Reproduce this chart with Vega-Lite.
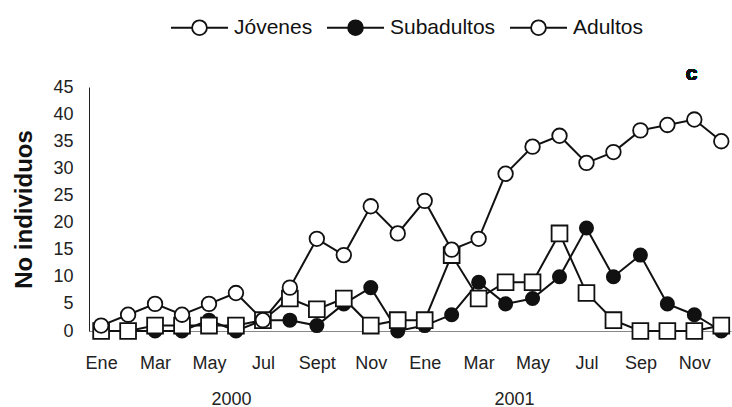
{
  "$schema": "https://vega.github.io/schema/vega-lite/v6.json",
  "width": 642,
  "height": 244,
  "autosize": {"type": "none"},
  "padding": {"left": 89, "top": 87, "right": 1, "bottom": 76},
  "background": "white",
  "config": {
    "font": "Liberation Sans",
    "view": {"stroke": null}
  },
  "datasets": {
    "conteo": [
      {"m": 0, "grupo": "Subadultos", "n": 0},
      {"m": 1, "grupo": "Subadultos", "n": 0},
      {"m": 2, "grupo": "Subadultos", "n": 0},
      {"m": 3, "grupo": "Subadultos", "n": 0},
      {"m": 4, "grupo": "Subadultos", "n": 2},
      {"m": 5, "grupo": "Subadultos", "n": 0},
      {"m": 6, "grupo": "Subadultos", "n": 2},
      {"m": 7, "grupo": "Subadultos", "n": 2},
      {"m": 8, "grupo": "Subadultos", "n": 1},
      {"m": 9, "grupo": "Subadultos", "n": 5},
      {"m": 10, "grupo": "Subadultos", "n": 8},
      {"m": 11, "grupo": "Subadultos", "n": 0},
      {"m": 12, "grupo": "Subadultos", "n": 1},
      {"m": 13, "grupo": "Subadultos", "n": 3},
      {"m": 14, "grupo": "Subadultos", "n": 9},
      {"m": 15, "grupo": "Subadultos", "n": 5},
      {"m": 16, "grupo": "Subadultos", "n": 6},
      {"m": 17, "grupo": "Subadultos", "n": 10},
      {"m": 18, "grupo": "Subadultos", "n": 19},
      {"m": 19, "grupo": "Subadultos", "n": 10},
      {"m": 20, "grupo": "Subadultos", "n": 14},
      {"m": 21, "grupo": "Subadultos", "n": 5},
      {"m": 22, "grupo": "Subadultos", "n": 3},
      {"m": 23, "grupo": "Subadultos", "n": 0},
      {"m": 0, "grupo": "Jóvenes", "n": 0},
      {"m": 1, "grupo": "Jóvenes", "n": 0},
      {"m": 2, "grupo": "Jóvenes", "n": 1},
      {"m": 3, "grupo": "Jóvenes", "n": 1},
      {"m": 4, "grupo": "Jóvenes", "n": 1},
      {"m": 5, "grupo": "Jóvenes", "n": 1},
      {"m": 6, "grupo": "Jóvenes", "n": 2},
      {"m": 7, "grupo": "Jóvenes", "n": 6},
      {"m": 8, "grupo": "Jóvenes", "n": 4},
      {"m": 9, "grupo": "Jóvenes", "n": 6},
      {"m": 10, "grupo": "Jóvenes", "n": 1},
      {"m": 11, "grupo": "Jóvenes", "n": 2},
      {"m": 12, "grupo": "Jóvenes", "n": 2},
      {"m": 13, "grupo": "Jóvenes", "n": 14},
      {"m": 14, "grupo": "Jóvenes", "n": 6},
      {"m": 15, "grupo": "Jóvenes", "n": 9},
      {"m": 16, "grupo": "Jóvenes", "n": 9},
      {"m": 17, "grupo": "Jóvenes", "n": 18},
      {"m": 18, "grupo": "Jóvenes", "n": 7},
      {"m": 19, "grupo": "Jóvenes", "n": 2},
      {"m": 20, "grupo": "Jóvenes", "n": 0},
      {"m": 21, "grupo": "Jóvenes", "n": 0},
      {"m": 22, "grupo": "Jóvenes", "n": 0},
      {"m": 23, "grupo": "Jóvenes", "n": 1},
      {"m": 0, "grupo": "Adultos", "n": 1},
      {"m": 1, "grupo": "Adultos", "n": 3},
      {"m": 2, "grupo": "Adultos", "n": 5},
      {"m": 3, "grupo": "Adultos", "n": 3},
      {"m": 4, "grupo": "Adultos", "n": 5},
      {"m": 5, "grupo": "Adultos", "n": 7},
      {"m": 6, "grupo": "Adultos", "n": 2},
      {"m": 7, "grupo": "Adultos", "n": 8},
      {"m": 8, "grupo": "Adultos", "n": 17},
      {"m": 9, "grupo": "Adultos", "n": 14},
      {"m": 10, "grupo": "Adultos", "n": 23},
      {"m": 11, "grupo": "Adultos", "n": 18},
      {"m": 12, "grupo": "Adultos", "n": 24},
      {"m": 13, "grupo": "Adultos", "n": 15},
      {"m": 14, "grupo": "Adultos", "n": 17},
      {"m": 15, "grupo": "Adultos", "n": 29},
      {"m": 16, "grupo": "Adultos", "n": 34},
      {"m": 17, "grupo": "Adultos", "n": 36},
      {"m": 18, "grupo": "Adultos", "n": 31},
      {"m": 19, "grupo": "Adultos", "n": 33},
      {"m": 20, "grupo": "Adultos", "n": 37},
      {"m": 21, "grupo": "Adultos", "n": 38},
      {"m": 22, "grupo": "Adultos", "n": 39},
      {"m": 23, "grupo": "Adultos", "n": 35}
    ]
  },
  "data": {"name": "conteo"},
  "encoding": {
    "y": {
      "field": "n",
      "type": "quantitative",
      "scale": {"domain": [0, 45], "nice": false},
      "axis": {
        "title": "No individuos",
        "titleFontSize": 24,
        "titleFontWeight": "bold",
        "titleColor": "#111",
        "titlePadding": 16,
        "values": [0, 5, 10, 15, 20, 25, 30, 35, 40, 45],
        "labelFontSize": 18,
        "labelColor": "#222",
        "labelPadding": 16,
        "labelOverlap": false,
        "labelFlush": false,
        "ticks": false,
        "grid": false,
        "domainColor": "#222",
        "domainWidth": 1
      }
    }
  },
  "layer": [
    {
      "mark": {"type": "line", "color": "#111", "strokeWidth": 2},
      "encoding": {
        "x": {
          "field": "m",
          "type": "quantitative",
          "scale": {"domain": [-0.45, 23.36], "nice": false, "zero": false},
          "axis": {
            "orient": "bottom",
            "title": null,
            "values": [0, 2, 4, 6, 8, 10, 12, 14, 16, 18, 20, 22],
            "labelExpr": "['Ene','Feb','Mar','Abr','May','Jun','Jul','Ago','Sept','Oct','Nov','Dic','Ene','Feb','Mar','Abr','May','Jun','Jul','Ago','Sep','Oct','Nov','Dic'][datum.value]",
            "labelFontSize": 18,
            "labelColor": "#222",
            "labelPadding": 23,
            "labelFlush": false,
            "labelOverlap": false,
            "ticks": false,
            "grid": false,
            "domainColor": "#888",
            "domainWidth": 1
          }
        },
        "detail": {"field": "grupo"}
      }
    },
    {
      "mark": {"type": "point", "filled": true, "opacity": 1, "stroke": "#111", "strokeWidth": 1.8},
      "encoding": {
        "x": {
          "field": "m",
          "type": "quantitative",
          "axis": {
            "orient": "bottom",
            "title": null,
            "values": [4.82, 15.31],
            "labelExpr": "datum.value < 10 ? '2000' : '2001'",
            "labelFontSize": 18,
            "labelColor": "#222",
            "labelPadding": 59,
            "labelFlush": false,
            "ticks": false,
            "domain": false,
            "grid": false
          }
        },
        "shape": {
          "field": "grupo",
          "type": "nominal",
          "scale": {"domain": ["Adultos", "Subadultos", "Jóvenes"], "range": ["circle", "circle", "square"]},
          "legend": null
        },
        "size": {
          "field": "grupo",
          "type": "nominal",
          "scale": {"domain": ["Subadultos", "Adultos", "Jóvenes"], "range": [175, 250, 165]},
          "legend": null
        },
        "fill": {
          "field": "grupo",
          "type": "nominal",
          "scale": {"domain": ["Jóvenes", "Subadultos", "Adultos"], "range": ["#ffffff", "#111111", "#ffffff"]},
          "legend": {
            "title": null,
            "orient": "none",
            "legendX": 81,
            "legendY": -89,
            "direction": "horizontal",
            "labelFontSize": 21,
            "labelColor": "#111",
            "labelOffset": 5,
            "columnPadding": 10,
            "symbolType": "M-1,0H-0.26M0.26,0H1M0.26,0A0.26,0.26,0,1,1,-0.26,0A0.26,0.26,0,1,1,0.26,0Z",
            "symbolSize": 3249,
            "symbolStrokeWidth": 1.8,
            "symbolStrokeColor": "#111",
            "encode": {
              "symbols": {
                "shape": {
                  "condition": {"test": "datum.value === 'Jóvenes'", "value": "M-1,0H-0.22M0.22,0H1M-0.22,-0.22H0.22V0.22H-0.22Z"},
                  "value": "M-1,0H-0.26M0.26,0H1M0.26,0A0.26,0.26,0,1,1,-0.26,0A0.26,0.26,0,1,1,0.26,0Z"
                }
              }
            }
          }
        }
      }
    },
    {
      "mark": {"type": "text", "text": "c", "fontSize": 21, "fontWeight": "bold", "fill": "#111", "align": "center", "baseline": "middle"},
      "encoding": {
        "x": {"datum": 21.9, "type": "quantitative", "axis": null},
        "y": {
          "datum": 47.4,
          "type": "quantitative",
          "axis": {
            "title": "No individuos",
            "titleFontSize": 24,
            "titleFontWeight": "bold",
            "titleColor": "#111",
            "titlePadding": 16,
            "values": [0, 5, 10, 15, 20, 25, 30, 35, 40, 45],
            "labelFontSize": 18,
            "labelColor": "#222",
            "labelPadding": 16,
            "labelOverlap": false,
            "labelFlush": false,
            "ticks": false,
            "grid": false,
            "domainColor": "#222",
            "domainWidth": 1
          }
        }
      }
    }
  ],
  "resolve": {"axis": {"x": "independent"}}
}
